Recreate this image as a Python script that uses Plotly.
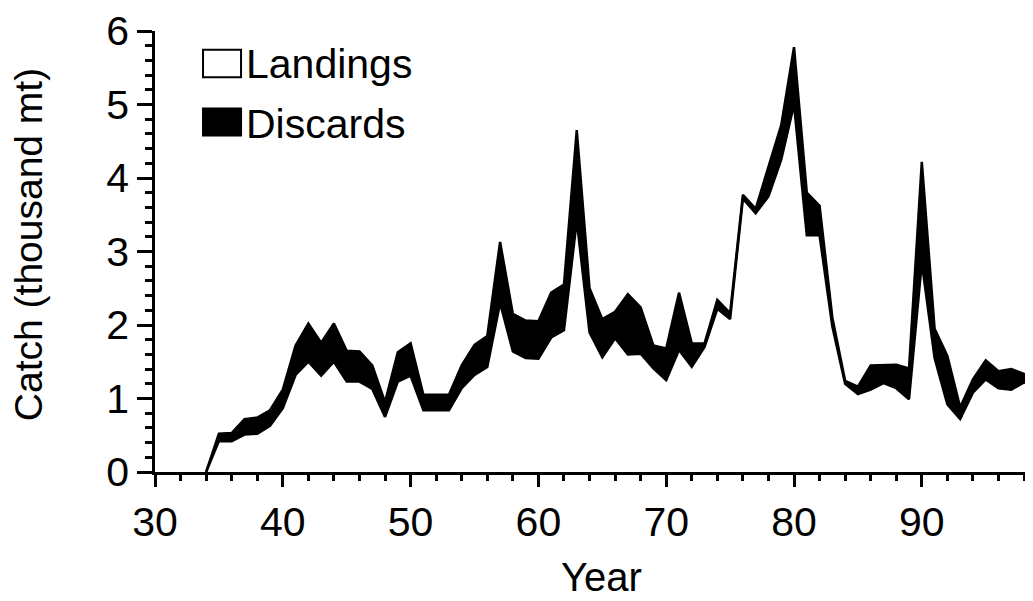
import plotly.graph_objects as go

years = list(range(34, 100))
landings = [0.00, 0.42, 0.42, 0.51, 0.52, 0.63, 0.87, 1.32, 1.50, 1.31,
            1.50, 1.23, 1.23, 1.13, 0.75, 1.23, 1.31, 0.84, 0.84, 0.84,
            1.14, 1.32, 1.43, 2.30, 1.64, 1.55, 1.54, 1.83, 1.93, 3.42,
            1.90, 1.56, 1.82, 1.60, 1.61, 1.41, 1.25, 1.66, 1.43, 1.70,
            2.22, 2.08, 3.72, 3.52, 3.75, 4.25, 5.00, 3.22, 3.22, 1.98,
            1.20, 1.06, 1.12, 1.21, 1.14, 0.99, 2.85, 1.55, 0.92, 0.72,
            1.08, 1.26, 1.14, 1.12, 1.22, 1.17]
discards = [0.00, 0.10, 0.11, 0.21, 0.22, 0.21, 0.25, 0.40, 0.52, 0.45,
            0.52, 0.42, 0.41, 0.32, 0.20, 0.40, 0.44, 0.21, 0.21, 0.21,
            0.31, 0.41, 0.42, 0.83, 0.51, 0.51, 0.51, 0.61, 0.62, 1.23,
            0.60, 0.52, 0.36, 0.82, 0.63, 0.31, 0.43, 0.78, 0.32, 0.05,
            0.12, 0.08, 0.05, 0.06, 0.40, 0.47, 0.78, 0.58, 0.40, 0.12,
            0.04, 0.10, 0.33, 0.25, 0.32, 0.42, 1.37, 0.40, 0.66, 0.16,
            0.18, 0.26, 0.23, 0.28, 0.11, 0.10]
x_ticks = [30, 40, 50, 60, 70, 80, 90]
y_ticks = [0, 1, 2, 3, 4, 5, 6]

FONT = "Liberation Sans, Arial, Helvetica, sans-serif"

fig = go.Figure()
fig.add_trace(go.Scatter(
    x=years, y=landings, name="Landings", stackgroup="catch",
    mode="lines", line=dict(color="black", width=2.5),
    fillcolor="white"))
fig.add_trace(go.Scatter(
    x=years, y=discards, name="Discards", stackgroup="catch",
    mode="lines", line=dict(color="black", width=2.5),
    fillcolor="black"))

# page body has an 8px margin, so the figure is sized to fit the window
fig.update_layout(
    width=1025, height=593,
    margin=dict(l=147, r=0, t=16, b=129),
    paper_bgcolor="white", plot_bgcolor="white",
    showlegend=False,
    font=dict(family=FONT, size=40, color="black"),
    xaxis=dict(
        range=[30, 98.7], tickmode="array", tickvals=x_ticks,
        ticktext=[str(v) for v in x_ticks],
        showgrid=False, zeroline=False,
        showline=True, linecolor="black", linewidth=2.5,
        ticks="outside", ticklen=12, tickwidth=2.5, tickcolor="black",
        tickfont=dict(size=41), ticklabeloverflow="allow",
        minor=dict(dtick=2, tick0=30, ticks="outside", ticklen=6,
                   tickwidth=2.5, tickcolor="black", showgrid=False),
    ),
    yaxis=dict(
        range=[0, 6], tickmode="array", tickvals=y_ticks,
        ticktext=[str(v) for v in y_ticks],
        showgrid=False, zeroline=False,
        showline=True, linecolor="black", linewidth=2.5,
        ticks="outside", ticklen=15, tickwidth=2.5, tickcolor="black",
        tickfont=dict(size=41), ticklabeloverflow="allow",
        minor=dict(dtick=0.2, tick0=0, ticks="outside", ticklen=7,
                   tickwidth=2.5, tickcolor="black", showgrid=False),
    ),
)

# axis titles
fig.add_annotation(text="Year", xref="paper", yref="paper",
                   x=0.509, y=-0.239, xanchor="center", yanchor="middle",
                   showarrow=False, font=dict(size=40, family=FONT))
fig.add_annotation(text="Catch (thousand mt)", xref="paper", yref="paper",
                   x=-0.1446, y=0.5145, xanchor="center", yanchor="middle",
                   textangle=-90, showarrow=False,
                   font=dict(size=39, family=FONT))

# legend (boxes + labels)
fig.add_shape(type="rect", xref="paper", yref="paper",
              x0=0.0547, x1=0.098, y0=0.895, y1=0.9576,
              fillcolor="white", line=dict(color="black", width=2))
fig.add_shape(type="rect", xref="paper", yref="paper",
              x0=0.0547, x1=0.098, y0=0.763, y1=0.824,
              fillcolor="black", line=dict(color="black", width=2))
fig.add_annotation(text="Landings", xref="paper", yref="paper",
                   x=0.1015, y=0.926, xanchor="left", yanchor="middle",
                   showarrow=False, font=dict(size=41, family=FONT))
fig.add_annotation(text="Discards", xref="paper", yref="paper",
                   x=0.1015, y=0.790, xanchor="left", yanchor="middle",
                   showarrow=False, font=dict(size=41, family=FONT))

fig.write_html("out.html")
